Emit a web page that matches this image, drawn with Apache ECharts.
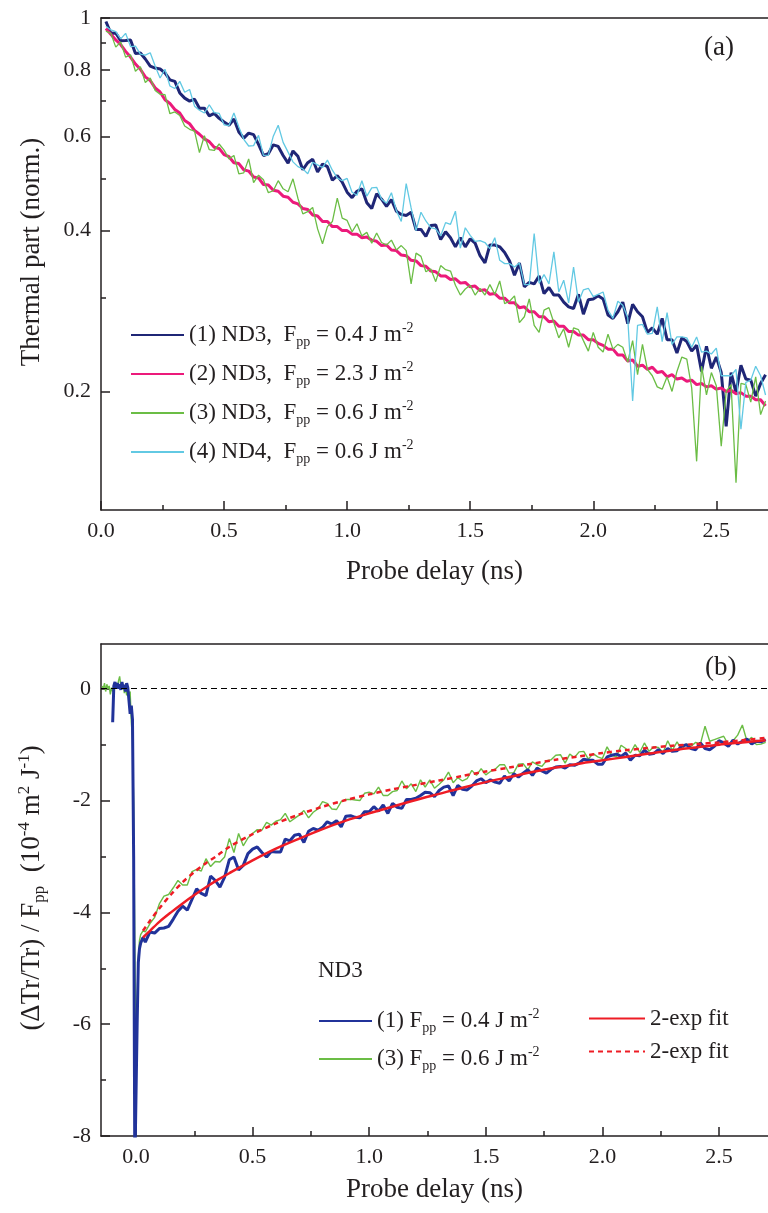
<!DOCTYPE html>
<html><head><meta charset="utf-8">
<script src="https://cdn.jsdelivr.net/npm/echarts@6/dist/echarts.min.js"></script>
<style>html,body{margin:0;padding:0;background:#fff}#c{width:768px;height:1213px}</style>
</head><body><div id="c"></div><script>
// ---------------- DATA ----------------
// Panel (a): thermal part (normalised), sampled every 0.02 ns from 0.02 ns
const topDelayStart = 0.02, topDelayStep = 0.02;
const topNavy = [.985,.936,.937,.907,.908,.910,.858,.860,.838,.813,
.806,.803,.789,.766,.761,.724,.708,.699,.705,.678,
.678,.656,.663,.649,.639,.630,.647,.612,.596,.609,
.605,.580,.553,.557,.579,.575,.553,.535,.564,.551,
.520,.536,.544,.515,.533,.527,.497,.507,.493,.472,
.461,.474,.479,.451,.440,.469,.458,.444,.457,.435,
.429,.427,.433,.402,.402,.390,.409,.410,.385,.398,
.388,.373,.388,.373,.386,.379,.359,.348,.376,.376,
.373,.364,.351,.330,.348,.314,.320,.318,.329,.305,
.313,.303,.303,.294,.288,.286,.304,.279,.297,.298,
.302,.298,.278,.274,.282,.294,.268,.291,.282,.276,
.258,.263,.256,.274,.250,.250,.236,.252,.248,.238,
.244,.218,.243,.221,.232,.217,.172,.217,.199,.224,
.211,.210,.196,.207,.215];
const topMagenta = [0.956,0.932,0.91,0.892,0.866,0.845,0.82,0.802,0.776,0.764,
0.74,0.727,0.703,0.692,0.674,0.664,0.643,0.634,0.616,0.606,
0.594,0.587,0.573,0.57,0.555,0.55,0.536,0.534,0.52,0.517,
0.504,0.502,0.488,0.487,0.476,0.474,0.464,0.462,0.452,0.449,
0.44,0.438,0.428,0.426,0.416,0.416,0.407,0.407,0.4,0.4,
0.394,0.394,0.388,0.389,0.384,0.382,0.375,0.376,0.368,0.367,
0.36,0.359,0.352,0.351,0.344,0.343,0.336,0.335,0.329,0.329,
0.324,0.325,0.319,0.32,0.314,0.315,0.309,0.31,0.304,0.305,
0.299,0.299,0.293,0.293,0.287,0.288,0.282,0.282,0.276,0.276,
0.27,0.271,0.265,0.265,0.259,0.259,0.255,0.255,0.25,0.25,
0.246,0.244,0.24,0.24,0.234,0.234,0.228,0.229,0.223,0.224,
0.22,0.222,0.217,0.218,0.213,0.215,0.211,0.212,0.209,0.21,
0.206,0.207,0.204,0.205,0.202,0.203,0.2,0.201,0.198,0.199,
0.196,0.196,0.193,0.193,0.188];
const topGreen = [.945,.936,.882,.902,.845,.853,.795,.811,.757,.772,
.732,.720,.719,.662,.667,.657,.628,.619,.614,.56,
.602,.567,.565,.581,.566,.545,.553,.511,.513,.545,
.492,.508,.498,.471,.475,.496,.479,.473,.50,.460,
.430,.434,.442,.403,.378,.407,.416,.46,.422,.418,
.398,.412,.391,.397,.379,.396,.380,.376,.384,.368,
.375,.367,.318,.363,.358,.335,.339,.321,.344,.338,
.336,.316,.303,.311,.316,.303,.312,.303,.317,.304,
.322,.292,.295,.302,.269,.276,.298,.266,.258,.284,
.287,.269,.252,.262,.242,.263,.261,.249,.238,.258,
.242,.237,.256,.240,.245,.242,.227,.249,.215,.245,
.220,.214,.204,.202,.213,.200,.218,.232,.230,.203,
.148,.223,.197,.217,.205,.158,.200,.206,.135,.207,
.206,.191,.213,.181,.192];
const topCyan = [.965,.950,.943,.914,.936,.884,.886,.856,.852,.861,
.813,.772,.802,.746,.738,.761,.726,.735,.684,.672,
.664,.688,.665,.663,.631,.629,.664,.625,.593,.576,
.577,.603,.553,.554,.601,.63,.585,.561,.538,.527,
.522,.511,.537,.531,.525,.542,.519,.502,.496,.501,
.472,.466,.496,.464,.481,.482,.458,.450,.471,.436,
.416,.49,.441,.400,.433,.417,.405,.403,.391,.414,
.411,.435,.371,.405,.392,.382,.383,.380,.370,.388,
.352,.347,.347,.342,.348,.317,.317,.395,.319,.331,
.318,.365,.307,.323,.293,.342,.294,.310,.312,.301,
.304,.307,.284,.274,.295,.290,.275,.192,.266,.267,
.256,.257,.288,.248,.281,.245,.253,.253,.252,.242,
.253,.237,.238,.235,.241,.214,.214,.214,.220,.17,
.208,.210,.223,.214,.197];
const topLegendNames = ['a1','a2','a3','a4'];
const topLegendPrefix = ['(1) ND3,  F','(2) ND3,  F','(3) ND3,  F','(4) ND4,  F'];
const topLegendFluence = ['0.4','2.3','0.6','0.6'];

// Panel (b): (dTr/Tr)/Fpp
const bPreDelay = [-0.145,-0.14,-0.135,-0.13,-0.125,-0.12,-0.115,-0.11,-0.105,-0.1,-0.095,-0.09,-0.085,-0.08,-0.075,-0.07,-0.065,-0.06,-0.055,-0.05,-0.045,-0.04,-0.035,-0.03,-0.025,-0.02,-0.015,-0.01,-0.005,0,0.005,0.01,0.015,0.02,0.03];
const bNavyPre = [null,null,null,null,null,null,null,null,null,-0.6,0.05,0.12,0.02,0.1,0.0,0.08,-0.02,0.12,0.0,0.07,-0.05,0.1,0.02,0.0,-0.45,-0.3,-0.55,-3.0,-8.6,-8.6,-6.0,-4.9,-4.65,-4.55,-4.45];
const bGreenPre = [0.05,0.0,0.1,-0.05,0.08,0.0,0.05,-0.1,0.02,-0.05,0.05,0.0,0.1,0.02,0.14,0.22,0.05,0.0,0.08,-0.08,0.02,-0.12,0.0,-0.1,-0.05,-0.6,-0.9,-2.05,-4.5,-6.5,-5.6,-4.8,-4.5,-4.4,-4.33];
const bPostStart = 0.04, bPostStep = 0.02;
const bNavyPost = [-4.53,-4.35,-4.37,-4.29,-4.28,-4.25,-4.12,-3.98,-3.89,-3.96,
-3.77,-3.58,-3.66,-3.70,-3.35,-3.43,-3.55,-3.37,-3.06,-3.01,
-3.24,-3.16,-2.95,-2.87,-2.83,-2.93,-3.01,-2.91,-2.92,-2.92,
-2.69,-2.72,-2.62,-2.60,-2.75,-2.55,-2.50,-2.53,-2.48,-2.38,
-2.42,-2.36,-2.47,-2.28,-2.27,-2.30,-2.31,-2.20,-2.20,-2.11,
-2.19,-2.08,-2.23,-2.05,-2.12,-2.14,-1.98,-1.98,-1.96,-1.91,
-1.85,-1.86,-1.93,-1.82,-1.76,-1.74,-1.91,-1.73,-1.80,-1.81,
-1.74,-1.65,-1.61,-1.68,-1.63,-1.67,-1.69,-1.56,-1.65,-1.52,
-1.58,-1.51,-1.45,-1.55,-1.42,-1.47,-1.51,-1.44,-1.40,-1.39,
-1.42,-1.36,-1.37,-1.33,-1.26,-1.28,-1.28,-1.35,-1.35,-1.22,
-1.19,-1.17,-1.21,-1.15,-1.28,-1.19,-1.20,-1.10,-1.17,-1.16,
-1.09,-1.16,-1.07,-1.12,-1.11,-1.03,-1.00,-1.07,-1.09,-0.97,
-1.07,-1.09,-1.03,-0.93,-0.97,-1.03,-0.92,-0.99,-0.94,-0.90,
-0.99,-0.94,-0.95,-0.91];
const bGreenPost = [-4.35,-4.20,-4.09,-3.85,-3.71,-3.68,-3.56,-3.43,-3.51,-3.51,
-3.27,-3.23,-3.26,-3.04,-3.18,-3.09,-3.10,-3.01,-2.68,-2.93,
-2.59,-2.81,-2.67,-2.59,-2.52,-2.53,-2.39,-2.44,-2.37,-2.34,
-2.23,-2.38,-2.32,-2.26,-2.18,-2.31,-2.21,-2.15,-2.02,-2.05,
-2.15,-2.16,-2.02,-1.98,-1.98,-1.99,-2.00,-1.87,-1.85,-1.88,
-1.76,-1.91,-1.91,-1.84,-1.82,-1.65,-1.79,-1.70,-1.84,-1.63,
-1.76,-1.63,-1.78,-1.71,-1.63,-1.49,-1.68,-1.59,-1.65,-1.61,
-1.46,-1.55,-1.43,-1.54,-1.48,-1.44,-1.36,-1.36,-1.51,-1.50,
-1.35,-1.34,-1.45,-1.31,-1.36,-1.39,-1.29,-1.27,-1.19,-1.18,
-1.33,-1.17,-1.23,-1.13,-1.12,-1.26,-1.16,-1.22,-1.25,-1.04,
-1.19,-1.22,-1.01,-1.07,-1.15,-1.00,-1.14,-0.97,-1.12,-1.04,
-1.05,-1.14,-0.93,-1.10,-0.95,-1.09,-0.99,-1.03,-0.96,-0.99,
-0.67,-0.94,-0.91,-0.88,-0.85,-1.00,-0.93,-0.83,-0.65,-0.94,
-0.87,-1.00,-0.99,-0.96];
const fitDelay = [0.03,0.06,0.10,0.15,0.20,0.25,0.30,0.35,0.40,0.50,0.60,0.70,0.80,0.90,1.00,1.10,1.20,1.30,1.40,1.50,1.60,1.70,1.80,1.90,2.00,2.10,2.20,2.30,2.40,2.50,2.60,2.70];
const fitSolid = [-4.45,-4.33,-4.17,-4.0,-3.84,-3.69,-3.55,-3.42,-3.30,-3.07,-2.86,-2.68,-2.51,-2.36,-2.23,-2.11,-1.99,-1.88,-1.77,-1.67,-1.58,-1.49,-1.41,-1.34,-1.28,-1.22,-1.16,-1.10,-1.05,-1.00,-0.96,-0.92];
const fitDashed = [-4.33,-4.15,-3.93,-3.68,-3.46,-3.28,-3.12,-2.98,-2.83,-2.6,-2.41,-2.25,-2.11,-1.99,-1.89,-1.80,-1.72,-1.64,-1.56,-1.48,-1.41,-1.34,-1.27,-1.21,-1.15,-1.10,-1.06,-1.02,-0.99,-0.96,-0.92,-0.88];
const botLegendNames = ['b1','b3'];
const botLegendPrefix = ['(1) F','(3) F'];
const botLegendFluence = ['0.4','0.6'];
const fitLegendNames = ['f1','f3'];
const fitLegendText = ['2-exp fit','2-exp fit'];

// tick values
const xMajorTicks = [0,0.5,1,1.5,2,2.5];
const xMinorTicks = [0.25,0.75,1.25,1.75,2.25];
const topYMajor = [0.2,0.4,0.6,0.8,1];
const topYMinor = [0.3,0.5,0.7,0.9];
const botYMajor = [-8,-6,-4,-2,0];
const botYMinor = [-7,-5,-3,-1];

// ---------------- BUILD ----------------
const FONT = 'Liberation Serif';
const INK = '#231f20';
const C_NAVY = '#1f2676', C_MAG = '#ec1a7b', C_GREEN = '#6bbd45', C_CYAN = '#62c9e3', C_BLUE = '#21339a', C_RED = '#ee1c25';

const topDelay = topNavy.map((_, i) => +(topDelayStart + topDelayStep * i).toFixed(2));
const bPostDelay = bNavyPost.map((_, i) => +(bPostStart + bPostStep * i).toFixed(2));
const zip = (xs, ys) => xs.map((x, i) => [x, ys[i]]);

const rich = {
  t: {fontFamily: FONT, fontSize: 23, color: INK, lineHeight: 28, verticalAlign: 'middle'},
  s: {fontFamily: FONT, fontSize: 14, color: INK, lineHeight: 12, verticalAlign: 'bottom'},
  p: {fontFamily: FONT, fontSize: 14, color: INK, lineHeight: 12, verticalAlign: 'top'}
};
const legendText = {};
topLegendNames.forEach((n, i) => legendText[n] = `{t|${topLegendPrefix[i]}}{s|pp}{t| = ${topLegendFluence[i]} J m}{p|-2}`);
botLegendNames.forEach((n, i) => legendText[n] = `{t|${botLegendPrefix[i]}}{s|pp}{t| = ${botLegendFluence[i]} J m}{p|-2}`);
fitLegendNames.forEach((n, i) => legendText[n] = `{t|${fitLegendText[i]}}`);

const axisLineStyle = {color: INK, width: 1.5};
const labelStyle = {fontFamily: FONT, fontSize: 22, color: INK};
const nameStyle = {fontFamily: FONT, fontSize: 27, color: INK};

function xAxesFor(grid, min, max, nameGap) {
  return [
    {gridIndex: grid, type: 'value', min, max, position: 'bottom',
     axisLine: {show: true, onZero: false, lineStyle: axisLineStyle},
     axisTick: {show: true, inside: true, length: 9, customValues: xMajorTicks, lineStyle: axisLineStyle},
     axisLabel: Object.assign({customValues: xMajorTicks, formatter: v => (+v).toFixed(1), margin: 10}, labelStyle),
     splitLine: {show: false},
     name: 'Probe delay (ns)', nameLocation: 'middle', nameGap, nameTextStyle: nameStyle},
    {gridIndex: grid, type: 'value', min, max, position: 'bottom',
     axisLine: {show: false, onZero: false},
     axisTick: {show: true, inside: true, length: 5, customValues: xMinorTicks, lineStyle: axisLineStyle},
     axisLabel: {show: false}, splitLine: {show: false}},
    {gridIndex: grid, type: 'value', min, max, position: 'top',
     axisLine: {show: true, onZero: false, lineStyle: axisLineStyle},
     axisTick: {show: false}, axisLabel: {show: false}, splitLine: {show: false}}
  ];
}
function yAxesFor(grid, type, min, max, major, minor, fmt) {
  const base = {gridIndex: grid, type, min, max, position: 'left'};
  if (type === 'log') base.logBase = 10;
  return [
    Object.assign({}, base, {
      axisLine: {show: true, onZero: false, lineStyle: axisLineStyle},
      axisTick: {show: true, inside: true, length: 9, customValues: major, lineStyle: axisLineStyle},
      axisLabel: Object.assign({customValues: major, formatter: fmt, margin: 10}, labelStyle),
      splitLine: {show: false}}),
    Object.assign({}, base, {
      axisLine: {show: false, onZero: false},
      axisTick: {show: true, inside: true, length: 5, customValues: minor, lineStyle: axisLineStyle},
      axisLabel: {show: false}, splitLine: {show: false}})
  ];
}

function line(name, xi, yi, data, color, width, extra) {
  return Object.assign({
    type: 'line', name, xAxisIndex: xi, yAxisIndex: yi, data, symbol: 'none',
    lineStyle: {color, width}, itemStyle: {color}, clip: true, animation: false
  }, extra || {});
}

const legendBase = {orient: 'vertical', padding: 0, itemHeight: 14, selectedMode: false,
  itemStyle: {opacity: 0}, formatter: n => legendText[n], textStyle: {rich}};

const option = {
  animation: false,
  backgroundColor: '#fff',
  grid: [
    {left: 101, top: 18, width: 668, height: 492},
    {left: 101, top: 644, width: 670.7, height: 492}
  ],
  xAxis: [].concat(xAxesFor(0, 0, 2.71, 48), xAxesFor(1, -0.15, 2.71, 40)),
  yAxis: [].concat(
    yAxesFor(0, 'log', 0.12, 1, topYMajor, topYMinor, v => Math.abs(v - 1) < 1e-6 ? '1' : (Math.round(v * 10) / 10).toFixed(1)),
    yAxesFor(1, 'value', -8, 0.8, botYMajor, botYMinor, v => String(Math.round(v)))
  ),
  legend: [
    Object.assign({}, legendBase, {data: topLegendNames, left: 130, top: 321, itemGap: 11, itemWidth: 53}),
    Object.assign({}, legendBase, {data: botLegendNames, left: 318, top: 1007, itemGap: 10, itemWidth: 53}),
    Object.assign({}, legendBase, {data: fitLegendNames, left: 588, top: 1007, itemGap: 10, itemWidth: 56})
  ],
  graphic: [
    {type: 'text', x: 32, y: 252, rotation: Math.PI / 2,
     style: {text: 'Thermal part (norm.)', fontFamily: FONT, fontSize: 27, fill: INK, align: 'center', verticalAlign: 'middle'}},
    {type: 'text', x: 32, y: 888, rotation: Math.PI / 2,
     style: {text: '{t|(ΔTr/Tr) / F}{s|pp}{t|  (10}{p|-4}{t| m}{p|2}{t| J}{p|-1}{t|)}', align: 'center', verticalAlign: 'middle',
       fontFamily: FONT, fontSize: 27, fill: INK,
       rich: {
         t: {fontFamily: FONT, fontSize: 27, fill: INK, lineHeight: 32, verticalAlign: 'middle'},
         s: {fontFamily: FONT, fontSize: 17, fill: INK, lineHeight: 14, verticalAlign: 'bottom'},
         p: {fontFamily: FONT, fontSize: 17, fill: INK, lineHeight: 14, verticalAlign: 'top'}
       }}},
    {type: 'text', x: 704, y: 48, style: {text: '(a)', fontFamily: FONT, fontSize: 27, fill: INK, align: 'left', verticalAlign: 'middle'}},
    {type: 'text', x: 705, y: 668, style: {text: '(b)', fontFamily: FONT, fontSize: 27, fill: INK, align: 'left', verticalAlign: 'middle'}},
    {type: 'text', x: 318, y: 971, style: {text: 'ND3', fontFamily: FONT, fontSize: 23, fill: INK, align: 'left', verticalAlign: 'middle'}}
  ],
  series: [
    line('a1', 0, 0, zip(topDelay, topNavy), C_NAVY, 3, {z: 2}),
    line('a2', 0, 0, zip(topDelay, topMagenta), C_MAG, 3, {z: 3}),
    line('a3', 0, 0, zip(topDelay, topGreen), C_GREEN, 1.3, {z: 4}),
    line('a4', 0, 0, zip(topDelay, topCyan), C_CYAN, 1.3, {z: 5}),
    line('b3', 3, 2, zip(bPreDelay, bGreenPre).concat(zip(bPostDelay, bGreenPost)), C_GREEN, 1.4, {z: 2}),
    line('b1', 3, 2, zip(bPreDelay, bNavyPre).concat(zip(bPostDelay, bNavyPost)), C_BLUE, 3, {z: 3,
      markLine: {silent: true, symbol: ['none', 'none'], label: {show: false}, animation: false,
        lineStyle: {color: '#000', width: 1, type: [6, 4]}, data: [{yAxis: 0}]}}),
    line('f1', 3, 2, zip(fitDelay, fitSolid), C_RED, 2.5, {z: 4, smooth: 0.3}),
    line('f3', 3, 2, zip(fitDelay, fitDashed), C_RED, 2.5, {z: 4, smooth: 0.3, lineStyle: {color: C_RED, width: 2.5, type: [5, 4]}})
  ]
};
const chart = echarts.init(document.getElementById('c'), null, {renderer: 'canvas'});
chart.setOption(option);
</script></body></html>
